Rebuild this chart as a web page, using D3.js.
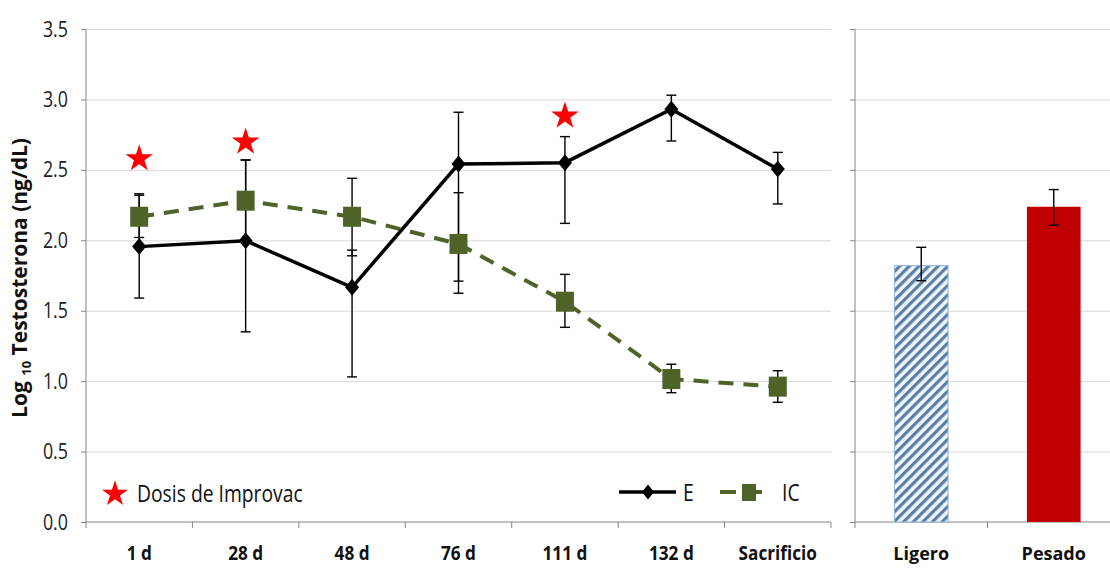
<!DOCTYPE html>
<html>
<head>
<meta charset="utf-8">
<script src="https://cdn.jsdelivr.net/npm/d3@7"></script>
<style>
  body { margin: 0; background: #fff; }
  svg { display: block; }
</style>
</head>
<body>
<svg id="chart" width="1110" height="570"></svg>
<script>
// Sampling days and log10 testosterone (ng/dL) per group
const days   = ["1 d", "28 d", "48 d", "76 d", "111 d", "132 d", "Sacrificio"];
const eMean  = [1.955, 1.997, 1.666, 2.541, 2.551, 2.930, 2.506];
const eLow   = [1.590, 1.350, 1.030, 1.710, 2.120, 2.705, 2.258];
const eHigh  = [2.320, 2.570, 1.930, 2.909, 2.736, 3.030, 2.624];
const icMean = [2.167, 2.281, 2.167, 1.974, 1.564, 1.015, 0.961];
const icLow  = [2.020, 1.995, 1.890, 1.624, 1.382, 0.918, 0.850];
const icHigh = [2.330, 2.570, 2.440, 2.338, 1.758, 1.120, 1.074];

// Improvac doses: day and height of the star marker
const doseDays  = ["1 d", "28 d", "111 d"];
const doseLevel = [2.587, 2.705, 2.890];

// Carcass weight groups
const groups     = ["Ligero", "Pesado"];
const groupMean  = [1.820, 2.238];
const groupLow   = [1.713, 2.107];
const groupHigh  = [1.950, 2.360];

const yTicks = [0, 0.5, 1.0, 1.5, 2.0, 2.5, 3.0, 3.5];

const svg = d3.select("#chart");
const sans = "'Open Sans', 'Noto Sans', sans-serif";

const axisColor = "#868686";
const gridColor = "#d9d9d9";
const olive = "#4f6228";

const y = d3.scaleLinear().domain([0, 3.5]).range([522, 29]);
const xL = d3.scaleBand().domain(days).range([86, 831]).padding(0);
const xR = d3.scaleBand().domain(groups).range([855, 1120]).padding(0);
const cx = d => xL(d) + xL.bandwidth() / 2;
const cr = d => xR(d) + xR.bandwidth() / 2;

// condensed text: place a group, then squeeze the glyphs horizontally
function condensed(parent, x, yPos, str, size, opts = {}) {
  const g = parent.append("g").attr("transform", `translate(${x},${yPos}) scale(${opts.sx || 0.82},1)`);
  return g.append("text")
    .attr("text-anchor", opts.anchor || "start")
    .attr("font-family", sans)
    .attr("font-weight", opts.bold ? "bold" : "normal")
    .attr("font-size", size)
    .attr("fill", opts.fill || "#111")
    .text(str);
}

// hatch for the light group bar
const defs = svg.append("defs");
const pat = defs.append("pattern")
  .attr("id", "hatch")
  .attr("patternUnits", "userSpaceOnUse")
  .attr("width", 6.8).attr("height", 6.8)
  .attr("patternTransform", "rotate(45)");
pat.append("rect").attr("width", 6.8).attr("height", 6.8).attr("fill", "#eef7fc");
pat.append("rect").attr("width", 3.2).attr("height", 6.8).attr("fill", "#5a7ea6");

// ---- gridlines ----
function grid(x0, x1) {
  svg.append("g")
    .attr("transform", `translate(${x0},0)`)
    .call(d3.axisLeft(y).tickValues(yTicks.filter(v => v > 0)).tickSize(-(x1 - x0)).tickFormat(""))
    .call(g => g.select(".domain").remove())
    .call(g => g.selectAll("line").attr("stroke", gridColor).attr("stroke-width", 1));
}
grid(86, 831);
grid(855, 1110);

// ---- y axes ----
const yAxisL = svg.append("g")
  .attr("transform", "translate(86,0)")
  .call(d3.axisLeft(y).tickValues(yTicks).tickSize(5).tickFormat(""));
yAxisL.select(".domain").attr("stroke", axisColor).attr("d", `M-0,${y(0)}V${y(3.5)}`);
yAxisL.selectAll("line").attr("stroke", axisColor);
const yLabels = svg.append("g");
yTicks.forEach(v => condensed(yLabels, 68, y(v) + 7.5, d3.format(".1f")(v), 21, { anchor: "end", sx: 0.85, fill: "#222" }));

const yAxisR = svg.append("g")
  .attr("transform", "translate(855,0)")
  .call(d3.axisLeft(y).tickValues(yTicks).tickSize(5).tickFormat(""));
yAxisR.select(".domain").attr("stroke", axisColor).attr("d", `M-0,${y(0)}V${y(3.5)}`);
yAxisR.selectAll("line").attr("stroke", axisColor);

// ---- x axes (ticks at category boundaries) ----
function bandAxis(scale, x0, x1) {
  const g = svg.append("g").attr("transform", `translate(0,${y(0)})`);
  g.append("line").attr("x1", x0).attr("x2", x1).attr("stroke", axisColor).attr("stroke-width", 1.2);
  const bounds = scale.domain().map(d => scale(d)).concat([scale.range()[1]]);
  g.selectAll("line.tk").data(bounds).join("line").attr("class", "tk")
    .attr("x1", d => d).attr("x2", d => d).attr("y1", 0).attr("y2", 6)
    .attr("stroke", axisColor);
  return g;
}
bandAxis(xL, 86, 831);
bandAxis(xR, 855, 1120);

const xLabels = svg.append("g");
days.forEach(d => condensed(xLabels, cx(d), 560, d, 20, { anchor: "middle", bold: true, sx: 0.86 }));

svg.append("g").selectAll("text").data(groups).join("text")
  .attr("x", d => cr(d)).attr("y", 560)
  .attr("text-anchor", "middle")
  .attr("font-family", sans).attr("font-weight", "bold").attr("font-size", 18)
  .attr("fill", "#111")
  .text(d => d);

// ---- y title ----
const yTitle = svg.append("text")
  .attr("transform", "translate(27,278) rotate(-90)")
  .attr("text-anchor", "middle")
  .attr("font-family", sans).attr("font-weight", "bold").attr("font-size", 21)
  .attr("fill", "#111");
yTitle.append("tspan").text("Log ");
yTitle.append("tspan").attr("font-size", 13).attr("dy", 4).text("10");
yTitle.append("tspan").attr("dy", -4).text(" Testosterona (ng/dL)");

// ---- group bars ----
const barW = xR.bandwidth() * 0.405;
svg.append("g").selectAll("rect").data(groups).join("rect")
  .attr("x", d => cr(d) - barW / 2)
  .attr("width", barW)
  .attr("y", (d, i) => y(groupMean[i]))
  .attr("height", (d, i) => y(0) - y(groupMean[i]))
  .attr("fill", (d, i) => i === 0 ? "url(#hatch)" : "#c00000")
  .attr("stroke", (d, i) => i === 0 ? "#8db3e2" : "none")
  .attr("stroke-width", 1);

// ---- error bars ----
function errorBars(xs, lo, hi, cap) {
  const g = svg.append("g").attr("stroke", "#000").attr("stroke-width", 1.4);
  xs.forEach((x, i) => {
    g.append("line").attr("x1", x).attr("x2", x).attr("y1", y(lo[i])).attr("y2", y(hi[i]));
    g.append("line").attr("x1", x - cap).attr("x2", x + cap).attr("y1", y(lo[i])).attr("y2", y(lo[i]));
    g.append("line").attr("x1", x - cap).attr("x2", x + cap).attr("y1", y(hi[i])).attr("y2", y(hi[i]));
  });
}
errorBars(groups.map(cr), groupLow, groupHigh, 5);
errorBars(days.map(cx), eLow, eHigh, 5);
errorBars(days.map(cx), icLow, icHigh, 5);

// ---- lines ----
const lineGen = d3.line().x((d, i) => cx(days[i])).y(d => y(d));
svg.append("path").datum(icMean).attr("d", lineGen)
  .attr("fill", "none").attr("stroke", olive).attr("stroke-width", 4)
  .attr("stroke-dasharray", "15,10");
svg.append("path").datum(eMean).attr("d", lineGen)
  .attr("fill", "none").attr("stroke", "#000").attr("stroke-width", 3.5);

// markers
const diamond = (w, h) => `M0,${-h / 2}L${w / 2},0L0,${h / 2}L${-w / 2},0Z`;
svg.append("g").selectAll("rect").data(icMean).join("rect")
  .attr("x", (d, i) => cx(days[i]) - 9).attr("y", d => y(d) - 10)
  .attr("width", 18).attr("height", 20).attr("fill", olive);
svg.append("g").selectAll("path").data(eMean).join("path")
  .attr("transform", (d, i) => `translate(${cx(days[i])},${y(d)})`)
  .attr("d", diamond(14, 17)).attr("fill", "#000");

// dose stars
const star = d3.symbol(d3.symbolStar, 235);
svg.append("g").selectAll("path").data(doseDays).join("path")
  .attr("transform", (d, i) => `translate(${cx(d)},${y(doseLevel[i]) + 1})`)
  .attr("d", star).attr("fill", "#ff0000");

// ---- legends ----
svg.append("path").attr("transform", "translate(115,494)")
  .attr("d", d3.symbol(d3.symbolStar, 210)).attr("fill", "#ff0000");
condensed(svg, 137, 502, "Dosis de Improvac", 23, { sx: 0.84 });

const leg = svg.append("g");
leg.append("line").attr("x1", 619).attr("x2", 676).attr("y1", 492).attr("y2", 492)
  .attr("stroke", "#000").attr("stroke-width", 3.5);
leg.append("path").attr("transform", "translate(648,492)").attr("d", diamond(12, 15)).attr("fill", "#000");
condensed(leg, 683, 501, "E", 23, { sx: 0.84 });
leg.append("line").attr("x1", 720).attr("x2", 762).attr("y1", 492).attr("y2", 492)
  .attr("stroke", olive).attr("stroke-width", 4).attr("stroke-dasharray", "16,6,20");
leg.append("rect").attr("x", 742).attr("y", 484).attr("width", 14).attr("height", 17).attr("fill", olive);
condensed(leg, 782, 501, "IC", 23, { sx: 0.84 });
</script>
</body>
</html>
